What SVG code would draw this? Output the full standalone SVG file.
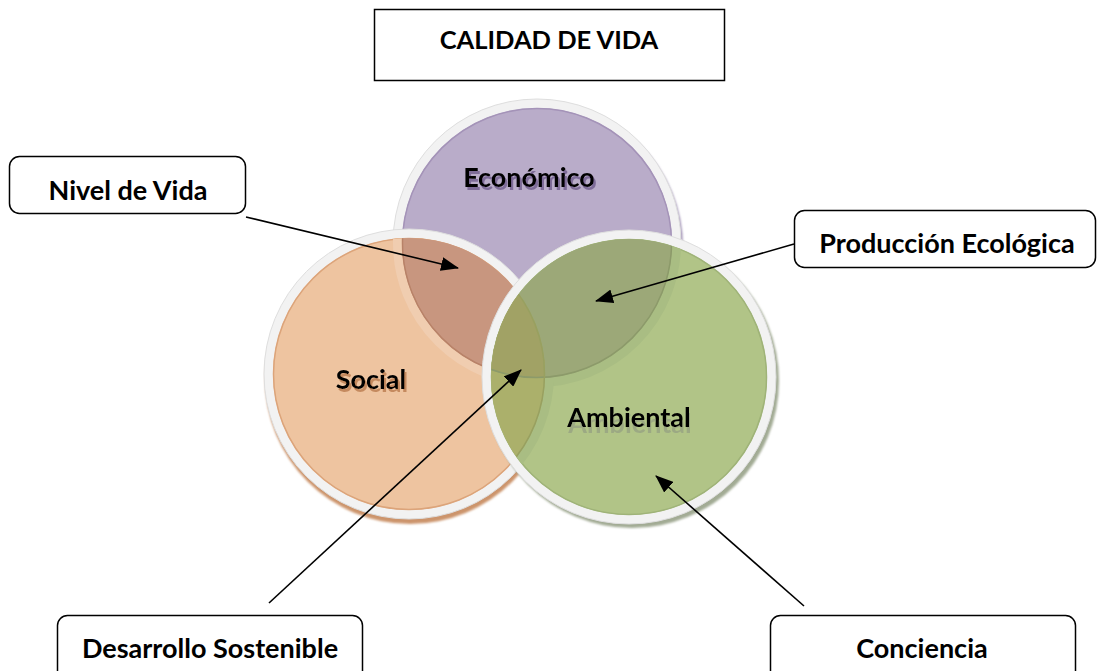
<svg xmlns="http://www.w3.org/2000/svg" width="1097" height="671" viewBox="0 0 1097 671">
<defs>
<style>
.lbl{font-family:Lato,"Liberation Sans",sans-serif;font-weight:bold;font-size:27px;fill:#000;text-anchor:middle}
.ttl{font-size:25.5px}
.box{fill:#fff;stroke:#000;stroke-width:1.5}
.ring{stroke:#f2f2f2;stroke-width:9}
.edge{fill:none;stroke:#dedede;stroke-width:1}
.conn{stroke:#000;stroke-width:1.6;fill:none;marker-end:url(#ah)}
</style>
<marker id="ah" markerUnits="userSpaceOnUse" markerWidth="18" markerHeight="14" viewBox="0 0 18 14" refX="17" refY="7" orient="auto">
<path d="M0,0 L18,7 L0,14 z" fill="#000"/>
</marker>
<clipPath id="cE"><circle cx="537" cy="243" r="135"/></clipPath>
<clipPath id="cS"><circle cx="409" cy="374" r="136"/></clipPath>
<clipPath id="cA"><circle cx="629" cy="377" r="138"/></clipPath>
<filter id="bl" x="-10%" y="-10%" width="120%" height="120%"><feGaussianBlur stdDeviation="1"/></filter>
<filter id="shE" x="-10%" y="-20%" width="130%" height="160%">
<feOffset in="SourceAlpha" dx="2" dy="3" result="o"/><feFlood flood-color="#7e6c98"/><feComposite in2="o" operator="in" result="s"/>
<feMerge><feMergeNode in="s"/><feMergeNode in="SourceGraphic"/></feMerge></filter>
<filter id="shS" x="-10%" y="-20%" width="130%" height="160%">
<feOffset in="SourceAlpha" dx="2" dy="3" result="o"/><feFlood flood-color="#c58a5f"/><feComposite in2="o" operator="in" result="s"/>
<feMerge><feMergeNode in="s"/><feMergeNode in="SourceGraphic"/></feMerge></filter>
<filter id="shA" x="-10%" y="-20%" width="130%" height="160%">
<feOffset in="SourceAlpha" dx="1" dy="6" result="o"/><feFlood flood-color="#9ca983"/><feComposite in2="o" operator="in" result="s"/>
<feMerge><feMergeNode in="s"/><feMergeNode in="SourceGraphic"/></feMerge></filter>
</defs>
<rect width="1097" height="671" fill="#fff"/>

<g id="title">
<rect class="box" x="374.5" y="9.5" width="350" height="71"/>
<text class="lbl ttl" x="549" y="49">CALIDAD DE VIDA</text>
</g>

<g id="economico">
<circle cx="539" cy="247" r="144" fill="#a091b5" filter="url(#bl)"/>
<circle class="ring" cx="537" cy="243" r="139.5" fill="#b9acc9"/>
<circle class="edge" cx="537" cy="243" r="144"/>
<circle cx="537" cy="243" r="134.5" fill="none" stroke="#a493b8" stroke-width="1.5"/>
</g>

<g id="social">
<circle cx="410" cy="379" r="145" fill="#cc946c" filter="url(#bl)"/>
<circle class="ring" cx="409" cy="374" r="140.5" fill="#eec4a0"/>
<circle class="edge" cx="409" cy="374" r="145"/>
<circle cx="409" cy="374" r="135.5" fill="none" stroke="#dca47a" stroke-width="1.5"/>
<g clip-path="url(#cS)">
<circle cx="537" cy="243" r="139.5" fill="none" stroke="#f0cdb0" stroke-width="9"/>
<circle cx="537" cy="243" r="135" fill="#c8967f"/>
<circle cx="537" cy="243" r="134.5" fill="none" stroke="#b88268" stroke-width="1.5"/>
</g>
</g>

<g id="ambiental">
<circle cx="632" cy="381" r="147" fill="#a2ab94" filter="url(#bl)"/>
<circle class="ring" cx="629" cy="377" r="142.5" fill="#b1c487"/>
<circle class="edge" cx="629" cy="377" r="147"/>
<circle cx="629" cy="377" r="137.5" fill="none" stroke="#9fb378" stroke-width="1.5"/>
<g clip-path="url(#cA)">
<circle cx="537" cy="243" r="139.5" fill="none" stroke="#a9bd83" stroke-width="9"/>
<circle cx="409" cy="374" r="140.5" fill="none" stroke="#a9bd83" stroke-width="9"/>
<circle cx="537" cy="243" r="135" fill="#9ca878"/>
<circle cx="409" cy="374" r="136" fill="#abb06b"/>
<g clip-path="url(#cE)"><circle cx="409" cy="374" r="136" fill="#a1a265"/></g>
<circle cx="537" cy="243" r="134.5" fill="none" stroke="#8c9a6a" stroke-width="1.5"/>
<circle cx="409" cy="374" r="135.5" fill="none" stroke="#98a060" stroke-width="1.5"/>
</g>
</g>

<g id="circle-labels">
<text class="lbl" x="529" y="187" filter="url(#shE)">Económico</text>
<text class="lbl" x="371" y="389" filter="url(#shS)">Social</text>
<text class="lbl" x="629" y="427" filter="url(#shA)">Ambiental</text>
</g>

<g id="connectors">
<line class="conn" x1="246" y1="217" x2="458" y2="268"/>
<line class="conn" x1="794" y1="244" x2="596" y2="301"/>
<line class="conn" x1="269" y1="603" x2="521" y2="370"/>
<line class="conn" x1="804" y1="606" x2="656" y2="476"/>
</g>

<g id="nivel-de-vida">
<rect class="box" x="9.5" y="156.5" width="236" height="57" rx="10"/>
<text class="lbl" x="128" y="200">Nivel de Vida</text>
</g>
<g id="produccion-ecologica">
<rect class="box" x="794.5" y="210.5" width="301" height="57" rx="10"/>
<text class="lbl" x="947" y="253">Producción Ecológica</text>
</g>
<g id="desarrollo-sostenible">
<rect class="box" x="57.5" y="615.5" width="305" height="70" rx="10"/>
<text class="lbl" x="210" y="658">Desarrollo Sostenible</text>
</g>
<g id="conciencia">
<rect class="box" x="770.5" y="615.5" width="305" height="70" rx="10"/>
<text class="lbl" x="922" y="658">Conciencia</text>
</g>
</svg>
